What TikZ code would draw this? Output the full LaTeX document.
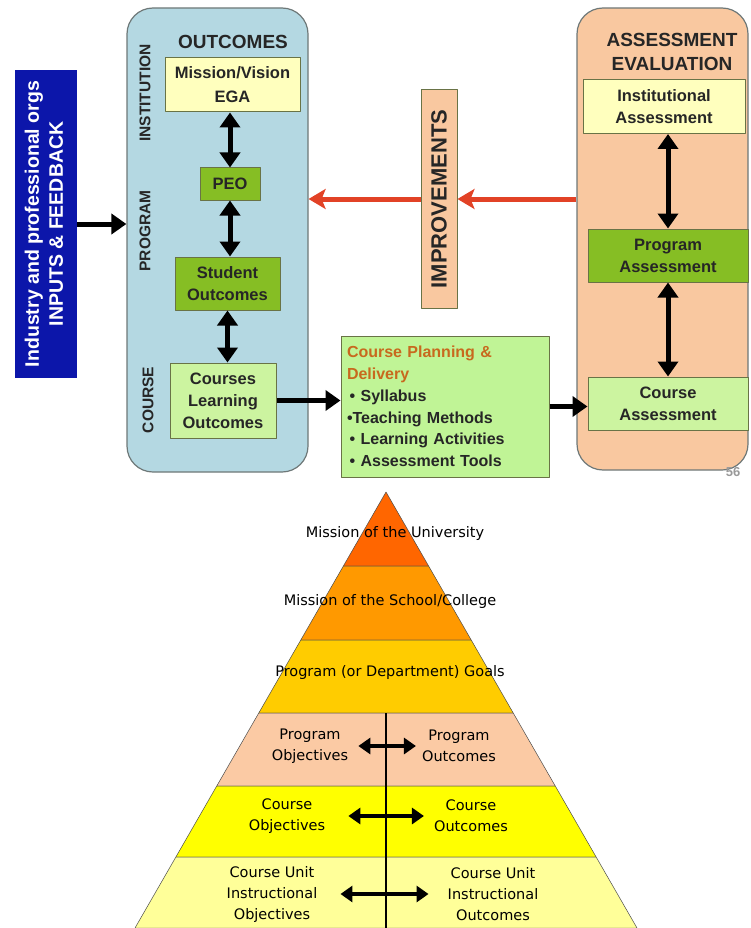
\documentclass[tikz,border=0pt]{standalone}
\usepackage{fontspec}
\setmainfont{Liberation Sans}
\newfontfamily\pyrfont{DejaVu Sans}
\usetikzlibrary{arrows.meta}
\definecolor{inblue}{RGB}{12,22,170}
\definecolor{outbg}{RGB}{180,216,226}
\definecolor{asmbg}{RGB}{249,200,160}
\definecolor{paleyel}{RGB}{255,255,190}
\definecolor{midgreen}{RGB}{134,190,36}
\definecolor{lightgreen}{RGB}{204,244,160}
\definecolor{cpgreen}{RGB}{192,244,150}
\definecolor{boxline}{RGB}{105,115,70}
\definecolor{panelline}{RGB}{110,120,120}
\definecolor{impred}{RGB}{226,66,38}
\definecolor{cptitle}{RGB}{200,105,30}
\definecolor{pyrA}{RGB}{255,102,0}
\definecolor{pyrB}{RGB}{255,153,0}
\definecolor{pyrC}{RGB}{255,204,0}
\definecolor{pyrD}{RGB}{251,202,164}
\definecolor{pyrE}{RGB}{255,255,0}
\definecolor{pyrF}{RGB}{255,255,153}
\newcommand\setfs[2]{\fontsize{#1}{#2}\selectfont}
\begin{document}
\begin{tikzpicture}[x=1pt,y=-1pt,line join=round,
	panel/.style={draw=panelline,line width=1.2pt,rounded corners=26pt},
	box/.style={draw=boxline,line width=1pt,align=center,inner sep=2pt,font=\setfs{16.5}{22}\bfseries,text=black!85},
	side/.style={font=\setfs{15.5}{18}\bfseries,text=black!85,inner sep=0pt},
	dbl/.style={{Triangle[width=20pt,length=15pt]}-{Triangle[width=20pt,length=15pt]},line width=5pt},
	fwd/.style={-{Triangle[width=20pt,length=15pt]},line width=5pt},
	redarr/.style={-{Stealth[width=20pt,length=17pt,inset=4pt]},line width=5pt,impred},
	pyr/.style={font=\pyrfont\setfs{14.5}{21},align=center,inner sep=1pt},
	pdbl/.style={{Triangle[width=16pt,length=12pt]}-{Triangle[width=16pt,length=12pt]},line width=4pt}]
	\useasboundingbox (0,0) rectangle (750,928);
	% top part
	\node[fill=inblue,minimum width=62pt,minimum height=308pt,inner sep=0pt,text=white,font=\setfs{19.5}{24}\bfseries] (inp) at (46,224)
		{\rotatebox{90}{\begin{tabular}{@{}c@{}}Industry and professional orgs\\INPUTS \& FEEDBACK\end{tabular}}};
	\node[panel,fill=outbg,minimum width=181pt,minimum height=464pt] (outc) at (217.5,240) {};
	\node[panel,fill=asmbg,minimum width=171pt,minimum height=462pt] (asm) at (662.5,239) {};
	\node[font=\setfs{19}{24}\bfseries,text=black!85] (outt) at (233,42) {OUTCOMES};
	\node[font=\setfs{19}{24}\bfseries,text=black!85,align=center] (asmt) at (672,52) {ASSESSMENT\\EVALUATION};
	\node[side] (inst) at (145,93) {\rotatebox{90}{INSTITUTION}};
	\node[side] (prog) at (145,231) {\rotatebox{90}{PROGRAM}};
	\node[side] (crs) at (148,400) {\rotatebox{90}{COURSE}};
	\node[box,fill=paleyel,minimum width=135pt,minimum height=54pt,font=\setfs{16.5}{24}\bfseries] (mis) at (232.5,85) {Mission/Vision\\EGA};
	\node[box,fill=midgreen,minimum width=60pt,minimum height=32pt] (peo) at (230,184) {PEO};
	\node[box,fill=midgreen,minimum width=105pt,minimum height=53pt] (so) at (227.5,283.5) {Student\\Outcomes};
	\node[box,fill=lightgreen,minimum width=106pt,minimum height=75pt] (clo) at (223,400.5) {Courses\\Learning\\Outcomes};
	\node[box,fill=cpgreen,text width=196pt,minimum height=141pt,inner sep=6pt,align=left,font=\setfs{16}{21.8}\bfseries] (cp) at (445,406.5)
		{\textcolor{cptitle}{Course Planning \&}\\\textcolor{cptitle}{Delivery}\\ \,\textbullet\ Syllabus\\\textbullet Teaching Methods\\ \,\textbullet\ Learning Activities\\ \,\textbullet\ Assessment Tools};
	\node[box,fill=asmbg,minimum width=36pt,minimum height=218pt,inner sep=0pt,font=\setfs{22}{24}\bfseries] (imp) at (439,199) {\rotatebox{90}{IMPROVEMENTS}};
	\node[box,fill=paleyel,minimum width=162pt,minimum height=54pt] (ia) at (664,106.5) {Institutional\\Assessment};
	\node[box,fill=midgreen,minimum width=160pt,minimum height=53pt] (pa) at (668,255.5) {Program\\Assessment};
	\node[box,fill=lightgreen,minimum width=160pt,minimum height=53pt] (ca) at (668,403.5) {Course\\Assessment};
	\node[text=black!40,font=\setfs{13}{14}\bfseries] (pgno) at (733,472) {56};
	\draw[fwd] (inp.east) -- (inp.east -| outc.west);
	\draw[dbl] (peo.north |- mis.south) -- (peo.north);
	\draw[dbl] (peo.south) -- (peo.south |- so.north);
	\draw[dbl] (so.south) -- (so.south |- clo.north);
	\draw[fwd] (clo.east) -- (clo.east -| cp.west);
	\draw[fwd] (cp.east) -- (cp.east -| ca.west);
	\draw[redarr] (asm.west |- imp.east) -- (imp.east);
	\draw[redarr] (imp.west) -- (imp.west -| outc.east);
	\draw[dbl] (pa.north |- ia.south) -- (pa.north);
	\draw[dbl] (pa.south) -- (pa.south |- ca.north);
	% pyramid
	\foreach \ya/\yb/\c in {492/566/pyrA,566/640/pyrB,640/713/pyrC,713/786/pyrD,786/857/pyrE,857/928/pyrF}
		\filldraw[fill=\c,draw=black!70,line width=0.5pt] ({386-0.5757*(\ya-492)},\ya) -- ({386+0.5757*(\ya-492)},\ya) -- ({386+0.5757*(\yb-492)},\yb) -- ({386-0.5757*(\yb-492)},\yb) -- cycle;
	\draw[line width=1.2pt] (386,713) -- (386,928);
	\node[pyr] (mu) at (395,533) {Mission of the University};
	\node[pyr] (ms) at (390,601) {Mission of the School/College};
	\node[pyr] (pg) at (390,672) {Program (or Department) Goals};
	\node[pyr] (pobj) at (310,746) {Program\\Objectives};
	\node[pyr] (pout) at (459,746) {Program\\Outcomes};
	\node[pyr] (cobj) at (287,816) {Course\\Objectives};
	\node[pyr] (cout) at (471,816) {Course\\Outcomes};
	\node[pyr] (uobj) at (272,894) {Course Unit\\Instructional\\Objectives};
	\node[pyr] (uout) at (493,894) {Course Unit\\Instructional\\Outcomes};
	\draw[pdbl,shorten <=9pt,shorten >=5pt] (pobj.east) -- (pout.west);
	\draw[pdbl,shorten <=22pt,shorten >=9pt] (cobj.east) -- (cout.west);
	\draw[pdbl,shorten <=22pt,shorten >=18pt] (uobj.east) -- (uout.west);
\end{tikzpicture}
\end{document}
